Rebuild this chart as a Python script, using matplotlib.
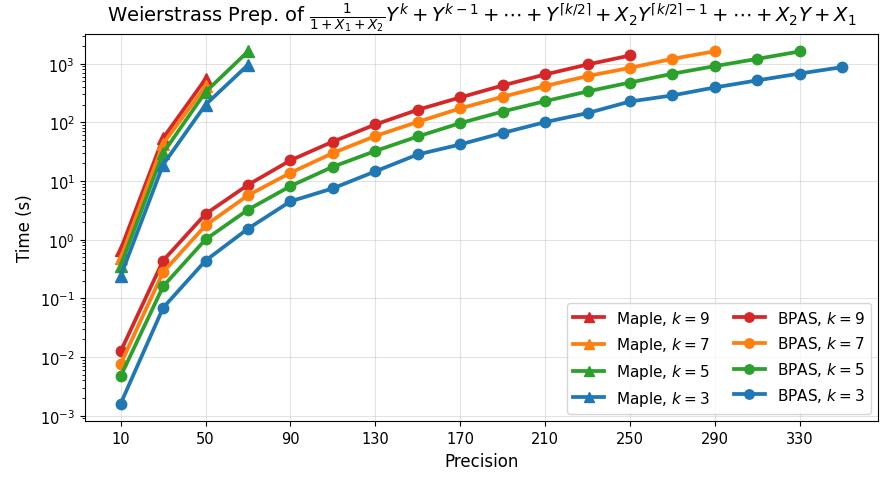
import numpy as np
import matplotlib
matplotlib.use("Agg")
import matplotlib.pyplot as plt

# Maple timings (precision 10..70)
maple_prec = [10, 30, 50, 70]
maple_k9 = [0.68, 54, 550]
maple_k7 = [0.48, 43, 415]
maple_k5 = [0.36, 30, 330, 1620]
maple_k3 = [0.24, 19, 200, 955]

# BPAS timings (precision 10, 30, ...)
bpas_k9 = [0.0125, 0.44, 2.74, 8.6, 22.5, 47, 92, 164, 266, 426, 655, 970, 1380]
bpas_k7 = [0.0076, 0.28, 1.75, 5.7, 13.8, 30, 58.5, 102, 173, 273, 417, 615,
           850, 1210, 1630]
bpas_k5 = [0.0047, 0.16, 1.01, 3.24, 8.2, 17.5, 32.5, 57.5, 97, 153, 230, 337,
           478, 675, 910, 1210, 1620]
bpas_k3 = [0.0016, 0.069, 0.44, 1.54, 4.5, 7.5, 14.6, 28.4, 42, 66, 101, 144,
           227, 288, 394, 520, 680, 875]

x_ticks = [10, 50, 90, 130, 170, 210, 250, 290, 330]

colors = {9: "tab:red", 7: "tab:orange", 5: "tab:green", 3: "tab:blue"}
maple = {9: maple_k9, 7: maple_k7, 5: maple_k5, 3: maple_k3}
bpas = {9: bpas_k9, 7: bpas_k7, 5: bpas_k5, 3: bpas_k3}

fig, ax = plt.subplots(figsize=(8.81, 4.81), dpi=100)

for k in [9, 7, 5, 3]:
    y = maple[k]
    ax.plot(maple_prec[:len(y)], y, marker="^", markersize=8, linewidth=2.7,
            color=colors[k], label=f"Maple, $k = {k}$")
for k in [9, 7, 5, 3]:
    y = bpas[k]
    x = 10 + 20 * np.arange(len(y))
    ax.plot(x, y, marker="o", markersize=7.5, linewidth=2.7,
            color=colors[k], label=f"BPAS, $k = {k}$")

ax.set_yscale("log")
ax.set_xticks(x_ticks)
ax.tick_params(labelsize=10.5)
ax.grid(True, alpha=0.35)
ax.set_xlabel("Precision", fontsize=12)
ax.set_ylabel("Time (s)", fontsize=12)
ax.set_title(r"Weierstrass Prep. of $\frac{1}{1+X_1+X_2}Y^k+Y^{k-1}+\cdots+Y^{\lceil k/2\rceil}"
             r"+X_2Y^{\lceil k/2\rceil-1}+\cdots+X_2Y+X_1$", fontsize=14)
ax.legend(ncol=2, loc="lower right", fontsize=11, markerscale=0.9,
          columnspacing=1.6)

fig.subplots_adjust(left=0.096, right=0.997, top=0.928, bottom=0.122)
fig.savefig("out.png", dpi=100)
